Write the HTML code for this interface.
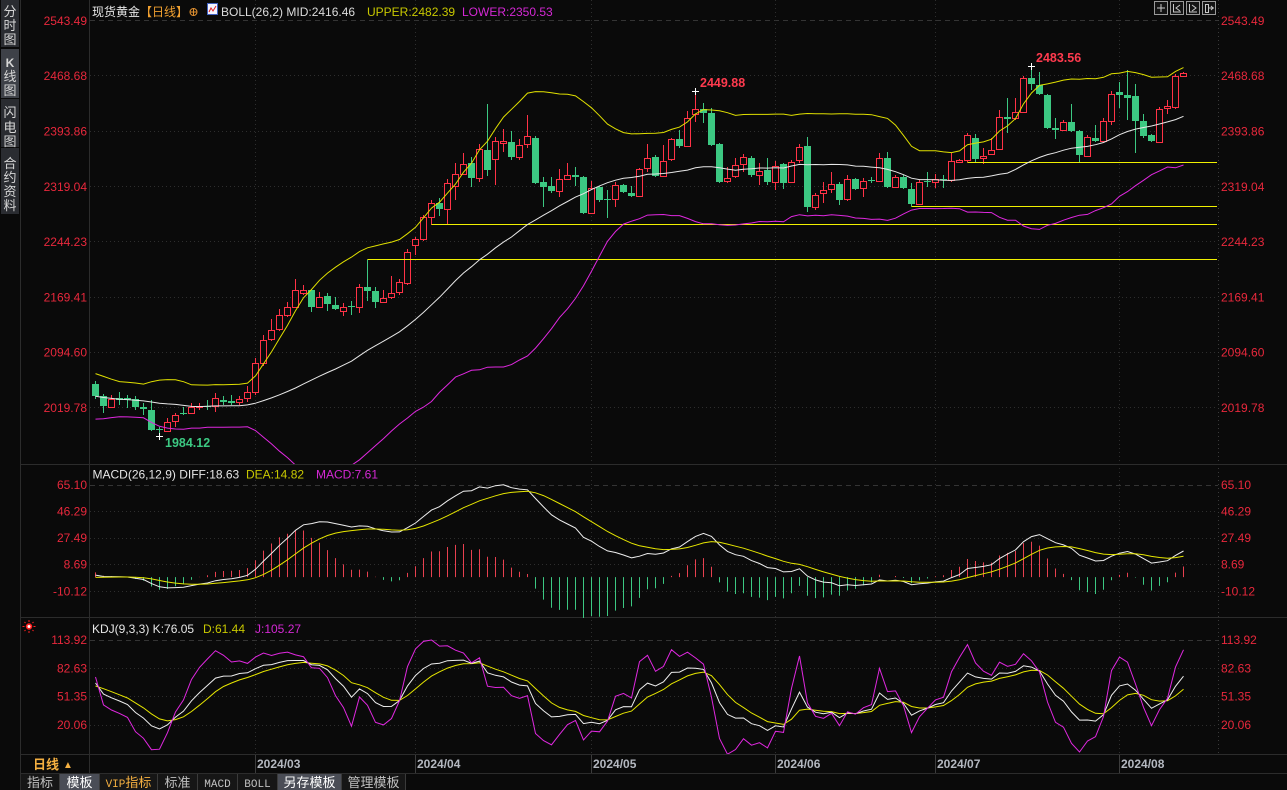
<!DOCTYPE html>
<html><head><meta charset="utf-8"><title>现货黄金 日线</title>
<style>
html,body{margin:0;padding:0;background:#0a0a0a;width:1287px;height:790px;overflow:hidden}
svg{display:block;position:absolute;left:0;top:0;font-family:"Liberation Sans","Noto Sans CJK SC",sans-serif}
</style></head><body>
<svg id="s" width="1287" height="790" viewBox="0 0 1287 790" xmlns="http://www.w3.org/2000/svg">
<defs>
<clipPath id="cm"><rect x="90" y="0" width="1128" height="464"/></clipPath>
<clipPath id="cd"><rect x="90" y="466" width="1128" height="151"/></clipPath>
<clipPath id="ck"><rect x="90" y="619" width="1128" height="135"/></clipPath>
</defs>
<rect width="1287" height="790" fill="#0a0a0a"/>

<!-- horizontal grid -->
<g stroke="#343434" stroke-width="1" fill="none">
<line x1="90" y1="20.5" x2="1218" y2="20.5" stroke-dasharray="5,4"/>
<line x1="90" y1="485.5" x2="1218" y2="485.5" stroke-dasharray="5,4"/>
<line x1="90" y1="640.5" x2="1218" y2="640.5" stroke-dasharray="5,4"/>
</g>
<g stroke="#2e2e2e" stroke-width="1" fill="none" stroke-dasharray="1,3">
<line x1="90" y1="75.5" x2="1218" y2="75.5"/>
<line x1="90" y1="131.5" x2="1218" y2="131.5"/>
<line x1="90" y1="186.5" x2="1218" y2="186.5"/>
<line x1="90" y1="241.5" x2="1218" y2="241.5"/>
<line x1="90" y1="297.5" x2="1218" y2="297.5"/>
<line x1="90" y1="352.5" x2="1218" y2="352.5"/>
<line x1="90" y1="407.5" x2="1218" y2="407.5"/>
<line x1="90" y1="511.5" x2="1218" y2="511.5"/>
<line x1="90" y1="538.5" x2="1218" y2="538.5"/>
<line x1="90" y1="564.5" x2="1218" y2="564.5"/>
<line x1="90" y1="591.5" x2="1218" y2="591.5"/>
<line x1="90" y1="668.5" x2="1218" y2="668.5"/>
<line x1="90" y1="696.5" x2="1218" y2="696.5"/>
<line x1="90" y1="725.5" x2="1218" y2="725.5"/>
<!-- vertical month grid -->
<line x1="255.5" y1="0" x2="255.5" y2="754"/>
<line x1="415.5" y1="0" x2="415.5" y2="754"/>
<line x1="591.5" y1="0" x2="591.5" y2="754"/>
<line x1="775.5" y1="0" x2="775.5" y2="754"/>
<line x1="935.5" y1="0" x2="935.5" y2="754"/>
<line x1="1119.5" y1="0" x2="1119.5" y2="754"/>
<line x1="1218.5" y1="0" x2="1218.5" y2="754" stroke="#3a3a3a"/>
</g>
<!-- date row ticks -->
<g stroke="#3c3c3c" stroke-width="1">
<line x1="255.5" y1="755" x2="255.5" y2="773"/>
<line x1="415.5" y1="755" x2="415.5" y2="773"/>
<line x1="591.5" y1="755" x2="591.5" y2="773"/>
<line x1="775.5" y1="755" x2="775.5" y2="773"/>
<line x1="935.5" y1="755" x2="935.5" y2="773"/>
<line x1="1119.5" y1="755" x2="1119.5" y2="773"/>
</g>
<!-- panel borders -->
<g stroke="#2c2c2c" stroke-width="1">
<line x1="20" y1="464.5" x2="1287" y2="464.5"/>
<line x1="20" y1="617.5" x2="1287" y2="617.5"/>
<line x1="20" y1="754.5" x2="1287" y2="754.5"/>
<line x1="20" y1="773.5" x2="1287" y2="773.5"/>
<line x1="89.5" y1="0" x2="89.5" y2="774"/>
<line x1="20.5" y1="0" x2="20.5" y2="790"/>
</g>

<!-- sidebar -->
<rect x="1" y="0" width="18" height="47" fill="#2a2c31"/>
<rect x="1" y="49" width="18" height="49" fill="#3e4148"/>
<rect x="1" y="99" width="18" height="48" fill="#2a2c31"/>
<rect x="1" y="148" width="18" height="66" fill="#2a2c31"/>
<g font-size="13" fill="#d6d6d6" text-anchor="middle" font-family="'Noto Sans CJK SC',sans-serif">
<text x="10" y="16">分</text><text x="10" y="30">时</text><text x="10" y="44">图</text>
<text x="10" y="67" font-family="'Liberation Sans',sans-serif" font-weight="bold" font-size="12">K</text><text x="10" y="81">线</text><text x="10" y="95">图</text>
<text x="10" y="117">闪</text><text x="10" y="132">电</text><text x="10" y="146">图</text>
<text x="10" y="168">合</text><text x="10" y="182">约</text><text x="10" y="196">资</text><text x="10" y="210">料</text>
</g>

<!-- header -->
<g font-size="12">
<text x="92" y="16" fill="#e6e6e6" font-family="'Noto Sans CJK SC',sans-serif">现货黄金</text>
<text x="140" y="16" fill="#f0a030" font-family="'Noto Sans CJK SC',sans-serif">【日线】</text>
<circle cx="193.5" cy="12" r="3.5" fill="none" stroke="#e09030" stroke-width="1"/>
<line x1="190" y1="12" x2="197" y2="12" stroke="#e09030"/><line x1="193.5" y1="8.5" x2="193.5" y2="15.5" stroke="#e09030"/>
<rect x="207.5" y="3.5" width="10" height="11" fill="#f4f4ff" stroke="#4060c0"/>
<polyline points="209,12 211,8 213,11 216,6" fill="none" stroke="#e02020" stroke-width="1"/>
<text x="221" y="16" fill="#dcdcdc">BOLL(26,2) MID:2416.46</text>
<text x="367" y="16" fill="#c8c800">UPPER:2482.39</text>
<text x="462" y="16" fill="#d428d4">LOWER:2350.53</text>
</g>
<!-- top right icons -->
<g fill="#141414" stroke="#9a9a9a" stroke-width="1">
<rect x="1154.5" y="1.5" width="13" height="13"/>
<rect x="1170.5" y="1.5" width="13" height="13"/>
<rect x="1186.5" y="1.5" width="13" height="13"/>
<rect x="1202.5" y="1.5" width="13" height="13"/>
</g>
<g stroke="#c8c8c8" stroke-width="1" fill="none">
<line x1="1157" y1="8" x2="1165" y2="8"/><line x1="1161" y1="4" x2="1161" y2="12"/>
<line x1="1173.5" y1="4" x2="1173.5" y2="12"/><line x1="1173" y1="12" x2="1181" y2="12"/><polyline points="1180,5 1176,8 1180,11"/>
<line x1="1189.5" y1="4" x2="1189.5" y2="12"/><line x1="1189" y1="12" x2="1197" y2="12"/><polyline points="1192,5 1196,8 1192,11"/>
<rect x="1205.5" y="4.5" width="3" height="8"/><line x1="1209" y1="8" x2="1214" y2="8"/><polyline points="1211,6 1213,8 1211,10"/>
</g>

<!-- axis labels -->
<g font-size="12" fill="#e8283c">
<g text-anchor="end">
<text x="87" y="25">2543.49</text><text x="87" y="80">2468.68</text><text x="87" y="135.5">2393.86</text><text x="87" y="191">2319.04</text>
<text x="87" y="246">2244.23</text><text x="87" y="301.5">2169.41</text><text x="87" y="356.5">2094.60</text><text x="87" y="412">2019.78</text>
<text x="87" y="489">65.10</text><text x="87" y="515.5">46.29</text><text x="87" y="542">27.49</text><text x="87" y="568.5">8.69</text><text x="87" y="595.5">-10.12</text>
<text x="87" y="644">113.92</text><text x="87" y="672.5">82.63</text><text x="87" y="700.5">51.35</text><text x="87" y="729">20.06</text>
</g>
<text x="1221" y="25">2543.49</text><text x="1221" y="80">2468.68</text><text x="1221" y="135.5">2393.86</text><text x="1221" y="191">2319.04</text>
<text x="1221" y="246">2244.23</text><text x="1221" y="301.5">2169.41</text><text x="1221" y="356.5">2094.60</text><text x="1221" y="412">2019.78</text>
<text x="1221" y="489">65.10</text><text x="1221" y="515.5">46.29</text><text x="1221" y="542">27.49</text><text x="1221" y="568.5">8.69</text><text x="1221" y="595.5">-10.12</text>
<text x="1221" y="644">113.92</text><text x="1221" y="672.5">82.63</text><text x="1221" y="700.5">51.35</text><text x="1221" y="729">20.06</text>
</g>

<!-- sub headers -->
<g font-size="12">
<text x="92.5" y="478.5" fill="#e6e6e6">MACD(26,12,9) DIFF:18.63</text>
<text x="246" y="478.5" fill="#c8c800">DEA:14.82</text>
<text x="316" y="478.5" fill="#d428d4">MACD:7.61</text>
<text x="92" y="633" fill="#e6e6e6">KDJ(9,3,3) K:76.05</text>
<text x="203" y="633" fill="#c8c800">D:61.44</text>
<text x="255" y="633" fill="#d428d4">J:105.27</text>
</g>
<g stroke="#ff2020" stroke-width="1">
<line x1="29" y1="620" x2="29" y2="622"/><line x1="29" y1="631" x2="29" y2="633"/>
<line x1="22.5" y1="626.5" x2="24.5" y2="626.5"/><line x1="33.5" y1="626.5" x2="35.5" y2="626.5"/>
<line x1="24.5" y1="622" x2="25.5" y2="623"/><line x1="32.5" y1="630" x2="33.5" y2="631"/>
<line x1="33.5" y1="622" x2="32.5" y2="623"/><line x1="24.5" y1="631" x2="25.5" y2="630"/>
</g>
<circle cx="29" cy="626.5" r="3.2" fill="#ff2020"/><circle cx="29" cy="626.5" r="1.5" fill="#ffffff"/>

<!-- dates -->
<g font-size="12" font-weight="bold" fill="#b4b8c0">
<text x="257" y="768">2024/03</text><text x="417" y="768">2024/04</text><text x="593" y="768">2024/05</text>
<text x="777" y="768">2024/06</text><text x="937" y="768">2024/07</text><text x="1121" y="768">2024/08</text>
</g>
<text x="33" y="769" font-size="13" font-weight="bold" fill="#f5b041" font-family="'Noto Sans CJK SC',sans-serif">日线</text>
<text x="63" y="768" font-size="10" fill="#f5b041">▲</text>

<!-- toolbar -->
<g>
<rect x="21" y="774" width="38" height="16" fill="#161616"/>
<rect x="60" y="774" width="39" height="16" fill="#4a4d56"/>
<rect x="100" y="774" width="57" height="16" fill="#161616"/>
<rect x="158" y="774" width="39" height="16" fill="#161616"/>
<rect x="198" y="774" width="39" height="16" fill="#161616"/>
<rect x="238" y="774" width="39" height="16" fill="#161616"/>
<rect x="278" y="774" width="63" height="16" fill="#4a4d56"/>
<rect x="342" y="774" width="63" height="16" fill="#161616"/>
</g>
<g stroke="#3a3a3a"><line x1="59.5" y1="774" x2="59.5" y2="790"/><line x1="99.5" y1="774" x2="99.5" y2="790"/><line x1="157.5" y1="774" x2="157.5" y2="790"/><line x1="197.5" y1="774" x2="197.5" y2="790"/><line x1="237.5" y1="774" x2="237.5" y2="790"/><line x1="277.5" y1="774" x2="277.5" y2="790"/><line x1="341.5" y1="774" x2="341.5" y2="790"/><line x1="405.5" y1="774" x2="405.5" y2="790"/></g>
<g font-size="13" text-anchor="middle" font-family="'Noto Sans CJK SC',sans-serif">
<text x="40" y="787" fill="#c0c0c0">指标</text>
<text x="79.5" y="787" fill="#ffffff">模板</text>
<text x="128.5" y="787" fill="#f5b041"><tspan font-family="'Liberation Mono',monospace" font-size="11">VIP</tspan>指标</text>
<text x="177.5" y="787" fill="#c0c0c0">标准</text>
<text x="217.5" y="787" fill="#c0c0c0" font-family="'Liberation Mono',monospace" font-size="11">MACD</text>
<text x="257.5" y="787" fill="#c0c0c0" font-family="'Liberation Mono',monospace" font-size="11">BOLL</text>
<text x="309.5" y="787" fill="#ffffff">另存模板</text>
<text x="373.5" y="787" fill="#c0c0c0">管理模板</text>
</g>

<g id="dyn"></g>

<!-- markers -->
<g stroke="#ffffff" stroke-width="1">
<line x1="156" y1="436.5" x2="163" y2="436.5"/><line x1="159.5" y1="433" x2="159.5" y2="440"/>
<line x1="692" y1="91.5" x2="699" y2="91.5"/><line x1="695.5" y1="88" x2="695.5" y2="95"/>
<line x1="1028" y1="66.5" x2="1035" y2="66.5"/><line x1="1031.5" y1="63" x2="1031.5" y2="70"/>
</g>
<g font-size="12.5" font-weight="bold">
<text x="165" y="447" fill="#3cc882">1984.12</text>
<text x="700" y="87" fill="#ff3a4e">2449.88</text>
<text x="1036" y="62" fill="#ff3a4e">2483.56</text>
</g>
</svg>
<script>
(function(){
var raw="384,396,381,399|396,406,394,413|407,399,395,408|398,400,392,405|398,400,395,408|399,407,396,410|407,409,403,415|410,430,400,431|429,430,427,434.5|431,422,418,432|421,415,413,427|413,414,407,415|413,407,403,414|407,406,403,410|406,407,400,410|406,398,393,412|400,402,396,405|401,403,395,405|402,399,396,405|398,392,386,402|392,363,358,395|363,340,335,366|339,330,319,341|329,315,309,331|315,307,302,317|307,290,279,307|293,290,285,295|290,307,289,312|307,297,292,308|296,304,293,311|305,309,297,310|311,307,303,316|306,307,301,315|307,287,284,313|287,291,259.5,301|291,302,287,308|302,298,290,303|297,293,276,299|292,282,279,295|283,252,249,285|245,239,237,255|239,217,215,241|217,203,200,225|203,209,198,216|209,183,179,225|186,174,163,200|174,164,153,175|163,178,157,187|178,149,144,182|150,170,104,176|159,141,137,185|143,141,129,152|142,157,131,160|157,145,139,160|144,136,115,148|138,183,136,184|182,187,177,207|186,191,177,193|191,179,169,197|179,175,163,180|175,177,167,186|177,213,176,214|213,188,181,213|187,200,186,202|199,200,190,218|199,185,182,207|185,192,184,193|193,196,186,197|196,169,168,197|168,158,144,172|157,176,155,177|176,161,145,177|159,139,138,161|139,146,130,148|146,118,111,147|114,109,90.2,122|109,113,103,123|113,145,108,146|144,182,143,183|181,178,167,183|176,165,158,178|164,157,154,172|158,175,156,177|175,171,163,185|170,182,158,185|182,166,161,190|164,183,163,189|182,162,160,183|160,147,144,163|146,207,137,212|207,195,193,210|193,190,182,203|189,184,172,193|184,200,182,205|199,179,175,201|179,189,178,190|188,181,178,197|180,181,177,183|181,158,153,182|158,187,152,188|187,177,175,188|177,188,175,189|189,204,183,206.5|204,182,180,205|181,182,172,187|182,179,174,188|179,180,175,188|180,161,153,182|162,160,159,163|160,135,133,162.5|138,159,134,163|158,156,148,164|154,150,138,155|149,117,110,150|117,119,98,133|118,112,98,120|112,78,76,112|78,84,65.3,90|85,94,72,95|95,128,94,129|128,130,118,139|130,122,120,131|122,131,104,132|131,155,130,162|156,137,135,157|138,141,125,142|141,121,118,142|121,94,91,125|92,95,82,108|95,98,70,120|96,121,84,153|121,136,114,138|135,141,134,142|142,109,107,143|108,106,100,114|107,76,74,109|76,73,72,76";
var D=raw.split('|').map(function(s){return s.split(',').map(Number);});
var P0=2543.49,Y0=20.6,S=0.7392;
function toP(y){return P0-(y-Y0)/S;}
function toY(p){return Y0+(P0-p)*S;}
var pre=[1985,1980,1993,1997,2002,2013,2014,2041,2044,2036,2072,2029,2019,2025,2028,2004,1982,1979,2027,2043,2019,2027,2040,2031,2045,2053,2067,2077,2065,2063,2058,2042,2043,2045,2028,2030,2024,2028,2049,2055,2028,2006,2023,2029,2021,2029,2014,2020,2018,2032,2037,2039,2054];
var C=[],H=[],L=[];
pre.forEach(function(c){C.push(c);H.push(c+9);L.push(c-9);});
var N0=pre.length;
D.forEach(function(d){C.push(toP(d[1]));H.push(toP(d[2]));L.push(toP(d[3]));});
var n=D.length;
function X(i){return 95.5+8*i;}
var up=[],md=[],lo=[];
for(var i=0;i<n;i++){var k=N0+i,s=0,j;for(j=k-25;j<=k;j++)s+=C[j];var m=s/26,v=0;for(j=k-25;j<=k;j++)v+=(C[j]-m)*(C[j]-m);var sd=Math.sqrt(v/25);up.push(m+2*sd);md.push(m);lo.push(m-2*sd);}
var e12=C[0],e26=C[0],dea=0,DIF=[],DEA=[],MAC=[];
for(var k2=0;k2<C.length;k2++){e12=(2*C[k2]+11*e12)/13;e26=(2*C[k2]+25*e26)/27;var dif=e12-e26;dea=(2*dif+8*dea)/10;if(k2>=N0){DIF.push(dif);DEA.push(dea);MAC.push(2*(dif-dea));}}
var K=50,Dv=50,KA=[],DA=[],JA=[];
for(var k3=0;k3<C.length;k3++){var a=Math.max(0,k3-8),hi=-1e9,lw=1e9;for(var j3=a;j3<=k3;j3++){if(H[j3]>hi)hi=H[j3];if(L[j3]<lw)lw=L[j3];}var rsv=hi>lw?(C[k3]-lw)/(hi-lw)*100:50;K=(2*K+rsv)/3;Dv=(2*Dv+K)/3;if(k3>=N0){KA.push(K);DA.push(Dv);JA.push(3*K-2*Dv);}}
function ym(v){return 485+(65.10-v)*1.4145;}
function yk(v){return 640+(113.92-v)*0.9045;}
function pl(arr,f,col,clip){return '<polyline clip-path="url(#'+clip+')" fill="none" stroke="'+col+'" stroke-width="1" points="'+arr.map(function(v,i){return X(i)+','+f(v).toFixed(1);}).join(' ')+'"/>';}
var R='#ff3246',G='#3cc882',out='';
// MACD histogram
var z=ym(0);
MAC.forEach(function(v,i){var x=X(i);out+='<line x1="'+x+'" y1="'+z.toFixed(1)+'" x2="'+x+'" y2="'+ym(v).toFixed(1)+'" stroke="'+(v>=0?'#e8404f':'#3cc882')+'" stroke-width="1"/>';});
out+=pl(DIF,ym,'#eeeeee','cd');
out+=pl(DEA,ym,'#e6e600','cd');
// candles
var cs='';
D.forEach(function(d,i){var x=X(i),o=d[0],c=d[1],h=d[2],l=d[3],t,b;
 if(c<o){t=Math.round(c)+0.5;b=Math.round(o)+0.5;
  cs+='<line x1="'+x+'" y1="'+h+'" x2="'+x+'" y2="'+t+'" stroke="'+R+'"/>';
  cs+='<line x1="'+x+'" y1="'+b+'" x2="'+x+'" y2="'+l+'" stroke="'+R+'"/>';
  cs+='<rect x="'+(x-3)+'" y="'+t+'" width="6" height="'+(b-t)+'" fill="#0a0a0a" stroke="'+R+'"/>';
 }else{
  cs+='<line x1="'+x+'" y1="'+h+'" x2="'+x+'" y2="'+l+'" stroke="'+G+'"/>';
  t=Math.round(o);b=Math.max(Math.round(c),t+1);
  cs+='<rect x="'+(x-3.5)+'" y="'+t+'" width="7" height="'+(b-t)+'" fill="'+G+'"/>';
 }});
out+='<g clip-path="url(#cm)">'+cs+'</g>';
// support lines
out+='<g stroke="#f0f000" stroke-width="1"><line x1="367.5" y1="259.5" x2="1217" y2="259.5"/><line x1="431.5" y1="224.5" x2="1217" y2="224.5"/><line x1="911.5" y1="206.5" x2="1217" y2="206.5"/><line x1="967.5" y1="162.5" x2="1217" y2="162.5"/></g>';
// BOLL
out+=pl(up,toY,'#e0e000','cm');
out+=pl(md,toY,'#e8e8e8','cm');
out+=pl(lo,toY,'#e028e0','cm');
// KDJ
out+=pl(DA,yk,'#e6e600','ck');
out+=pl(KA,yk,'#eeeeee','ck');
out+=pl(JA,yk,'#e028e0','ck');
document.getElementById('dyn').innerHTML=out;
})();
</script>
</body></html>
